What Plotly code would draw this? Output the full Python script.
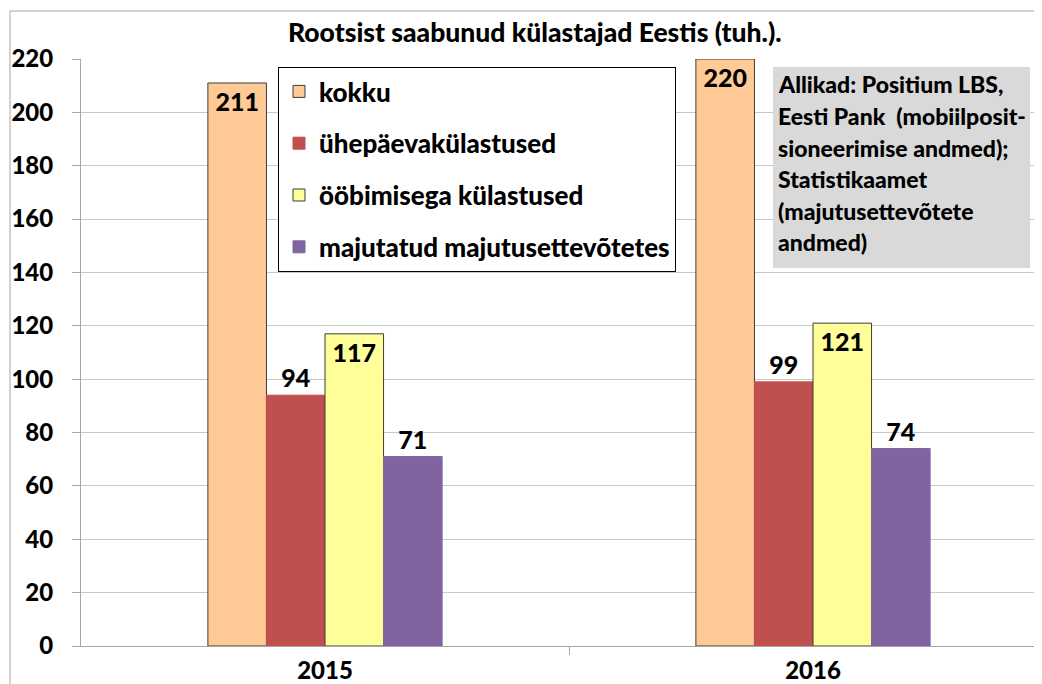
import plotly.graph_objects as go

years = ["2015", "2016"]
series_names = ["kokku", "ühepäevakülastused", "ööbimisega külastused", "majutatud majutusettevõtetes"]
kokku = [211, 220]
uhepaeva = [94, 99]
oobimisega = [117, 121]
majutatud = [71, 74]
series_values = [kokku, uhepaeva, oobimisega, majutatud]
colors = ["#FFCA96", "#C0504D", "#FFFF99", "#8064A2"]
outlines = ["#3a3a3a", "#C0504D", "#3a3a3a", "#8064A2"]
label_pos = ["inside", "outside", "inside", "outside"]
title_text = "Rootsist saabunud külastajad Eestis (tuh.)."
source_lines = ["Allikad: Positium LBS,", "Eesti Pank  (mobiilposit-", "sioneerimise andmed);",
                "Statistikaamet", "(majutusettevõtete", "andmed)"]
y_ticks = list(range(0, 221, 20))

FONT = "Lato"
WT = 900
OFF = 8  # page body margin
W, H = 1034, 676
L, R, T, B = 73, 0, 51, 38
pw, ph = W - L - R, H - T - B
CAT_PX = 488.0

def px_x(x):
    return (x - OFF - L) / pw

def px_y(y):
    return (H - B - (y - OFF)) / ph

fig = go.Figure()
xpos = list(range(len(years)))
for i, (name, vals) in enumerate(zip(series_names, series_values)):
    fig.add_trace(go.Bar(
        x=xpos, y=vals, name=name, legendgroup=name,
        marker=dict(color=colors[i], line=dict(color=outlines[i], width=1)),
        text=[str(v) for v in vals], textposition=label_pos[i],
        insidetextanchor="end",
        textfont=dict(family=FONT, size=25, color="black", weight=WT),
        cliponaxis=False,
    ))

fig.update_layout(
    width=W, height=H,
    margin=dict(l=L, r=R, t=T, b=B),
    paper_bgcolor="white", plot_bgcolor="white",
    barmode="group", bargap=0.52, bargroupgap=0,
    showlegend=True,
    legend=dict(
        x=px_x(278), y=px_y(67), xanchor="left", yanchor="top",
        bgcolor="white", bordercolor="black", borderwidth=1,
        font=dict(family=FONT, size=26, color="black", weight=WT),
        traceorder="grouped", tracegroupgap=15,
    ),
    uniformtext=dict(minsize=25, mode="show"),
)

fig.update_xaxes(
    range=[-0.5, -0.5 + pw / CAT_PX],
    tickmode="array", tickvals=xpos, ticktext=years, ticks="",
    tickfont=dict(family=FONT, size=24, color="black", weight=WT),
    showline=True, linecolor="#A6A6A6", linewidth=1,
    showgrid=False, zeroline=False, ticklabelstandoff=3,
    minor=dict(tickmode="array", tickvals=[0.5, 1.5], ticks="outside", ticklen=8,
               tickcolor="#A6A6A6", tickwidth=1, showgrid=False),
)
fig.update_yaxes(
    range=[0, 220], tickmode="array", tickvals=y_ticks,
    ticks="outside", ticklen=8, tickcolor="#A6A6A6",
    tickfont=dict(family=FONT, size=24, color="black", weight=WT),
    showline=True, linecolor="#A6A6A6", linewidth=1,
    showgrid=True, gridcolor="#C8C8C8", gridwidth=1,
    zeroline=False, ticklabelstandoff=14,
)

# outer chart frame
fig.add_shape(type="rect", xref="paper", yref="paper",
              x0=px_x(10), x1=1.2, y0=-0.5, y1=px_y(11),
              line=dict(color="#A6A6A6", width=1), fillcolor="rgba(0,0,0,0)", layer="below")

# title
fig.add_annotation(text=title_text, xref="paper", yref="paper",
                   x=px_x(535), y=px_y(32), xanchor="center", yanchor="middle",
                   showarrow=False,
                   font=dict(family=FONT, size=26.5, color="black", weight=WT))

# source box
fig.add_shape(type="rect", xref="paper", yref="paper",
              x0=px_x(773), x1=px_x(1030), y0=px_y(268), y1=px_y(67),
              line=dict(width=0), fillcolor="#D9D9D9", layer="above")
line_y = [84, 116, 148, 179, 211, 242]
for txt, yy in zip(source_lines, line_y):
    fig.add_annotation(text=txt, xref="paper", yref="paper",
                       x=px_x(776), y=px_y(yy), xanchor="left", yanchor="middle",
                       showarrow=False,
                       font=dict(family=FONT, size=23, color="black", weight=WT))

fig.write_html("out.html")
